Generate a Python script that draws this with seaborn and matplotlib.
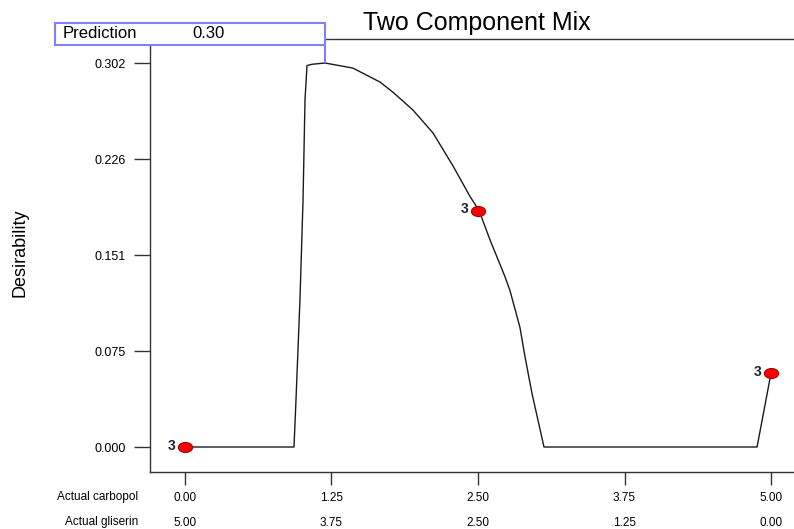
import matplotlib
matplotlib.use("Agg")
import matplotlib.pyplot as plt
import seaborn as sns
import pandas as pd
from matplotlib.patches import Rectangle
from matplotlib.path import Path
from matplotlib.transforms import Affine2D

# Desirability trace (carbopol amount -> desirability), gliserin = 5 - carbopol
carbopol = [0.0, 0.93, 0.947, 0.981, 1.007, 1.024, 1.041, 1.084, 1.195, 1.433,
            1.664, 1.775, 1.945, 2.116, 2.287, 2.432, 2.509, 2.602, 2.730, 2.773,
            2.858, 2.901, 2.961, 3.063, 4.881, 5.0]
desirability = [0.0, 0.0, 0.037, 0.116, 0.194, 0.273, 0.300, 0.301, 0.302, 0.298,
                0.287, 0.279, 0.265, 0.247, 0.221, 0.197, 0.186, 0.163, 0.134, 0.123,
                0.094, 0.071, 0.042, 0.0, 0.0, 0.058]

# design points with replicate counts
design_x = [0.0, 2.5, 5.0]
design_y = [0.0, 0.186, 0.058]
replicates = ["3", "3", "3"]

x_ticks = [0.0, 1.25, 2.5, 3.75, 5.0]
carbopol_labels = ["0.00", "1.25", "2.50", "3.75", "5.00"]
gliserin_labels = ["5.00", "3.75", "2.50", "1.25", "0.00"]
y_ticks = [0.0, 0.0755, 0.151, 0.2265, 0.302]
y_labels = ["0.000", "0.075", "0.151", "0.226", "0.302"]

pred_x, pred_y, pred_text = 1.195, 0.302, "0.30"

sns.set_style("white")
plt.rcParams["font.family"] = ["Liberation Sans", "DejaVu Sans"]
plt.rcParams["text.color"] = "black"
plt.rcParams["xtick.color"] = "black"
plt.rcParams["ytick.color"] = "black"

W, H = 794, 529
fig = plt.figure(figsize=(W / 100, H / 100), dpi=100)
ax = fig.add_axes([150 / W, (H - 472) / H, 650 / W, 433 / H])

df = pd.DataFrame({"carbopol": carbopol, "desirability": desirability})
sns.lineplot(data=df, x="carbopol", y="desirability", sort=False, estimator=None,
             color="#1a1a1a", lw=1, ax=ax)

ellipse = Path.unit_circle().transformed(Affine2D().scale(1, 0.7))
pts = pd.DataFrame({"x": design_x, "y": design_y})
sns.scatterplot(data=pts, x="x", y="y", marker=ellipse, s=105, color="#ff0000",
                edgecolor="#a00000", linewidth=0.8, zorder=4, ax=ax)
for x, y, r in zip(design_x, design_y, replicates):
    ax.annotate(r, (x, y), xytext=(-7, 1), textcoords="offset points",
                ha="right", va="center", fontsize=10, fontweight="bold", color="#222233")

ax.set_xlim(-0.2986, 5.2474)
ax.set_ylim(-0.01966, 0.32088)
ax.set_xlabel("")
ax.set_ylabel("")

ax.set_yticks(y_ticks)
ax.set_yticklabels(y_labels, fontsize=9)
ax.set_xticks(x_ticks)
ax.set_xticklabels([c + "\n" + g for c, g in zip(carbopol_labels, gliserin_labels)],
                   fontsize=8.5, linespacing=2.45)
ax.tick_params(axis="y", direction="out", length=11.5, width=1, color="#333333", pad=6, left=True)
ax.tick_params(axis="x", direction="out", length=9.5, width=1, color="#333333", pad=5, bottom=True)

for side in ["left", "bottom", "top"]:
    ax.spines[side].set_color("#333333")
    ax.spines[side].set_linewidth(1)
ax.spines["right"].set_visible(False)

# prediction flag
ax.vlines(pred_x, pred_y, 0.3162, color="#8080ff", lw=1.5, zorder=5)
box = Rectangle((55 / W, 1 - 45 / H), 270 / W, 22 / H, transform=fig.transFigure,
                facecolor="white", edgecolor="#8080ff", lw=1.5, zorder=5)
fig.add_artist(box)
fig.text(63 / W, 1 - 34 / H, "Prediction", fontsize=12, va="center", ha="left", zorder=6)
fig.text(192 / W, 1 - 34 / H, pred_text, fontsize=12, va="center", ha="left", zorder=6)

fig.text(477 / W, 1 - 23 / H, "Two Component Mix", fontsize=18, ha="center", va="center")
fig.text(20 / W, 1 - 253 / H, "Desirability", fontsize=13, rotation=90, ha="center", va="center")

fig.text(138 / W, 1 - 497 / H, "Actual carbopol", fontsize=8.5, ha="right", va="center")
fig.text(138 / W, 1 - 522 / H, "Actual gliserin", fontsize=8.5, ha="right", va="center")

fig.savefig("out.png", dpi=100)
